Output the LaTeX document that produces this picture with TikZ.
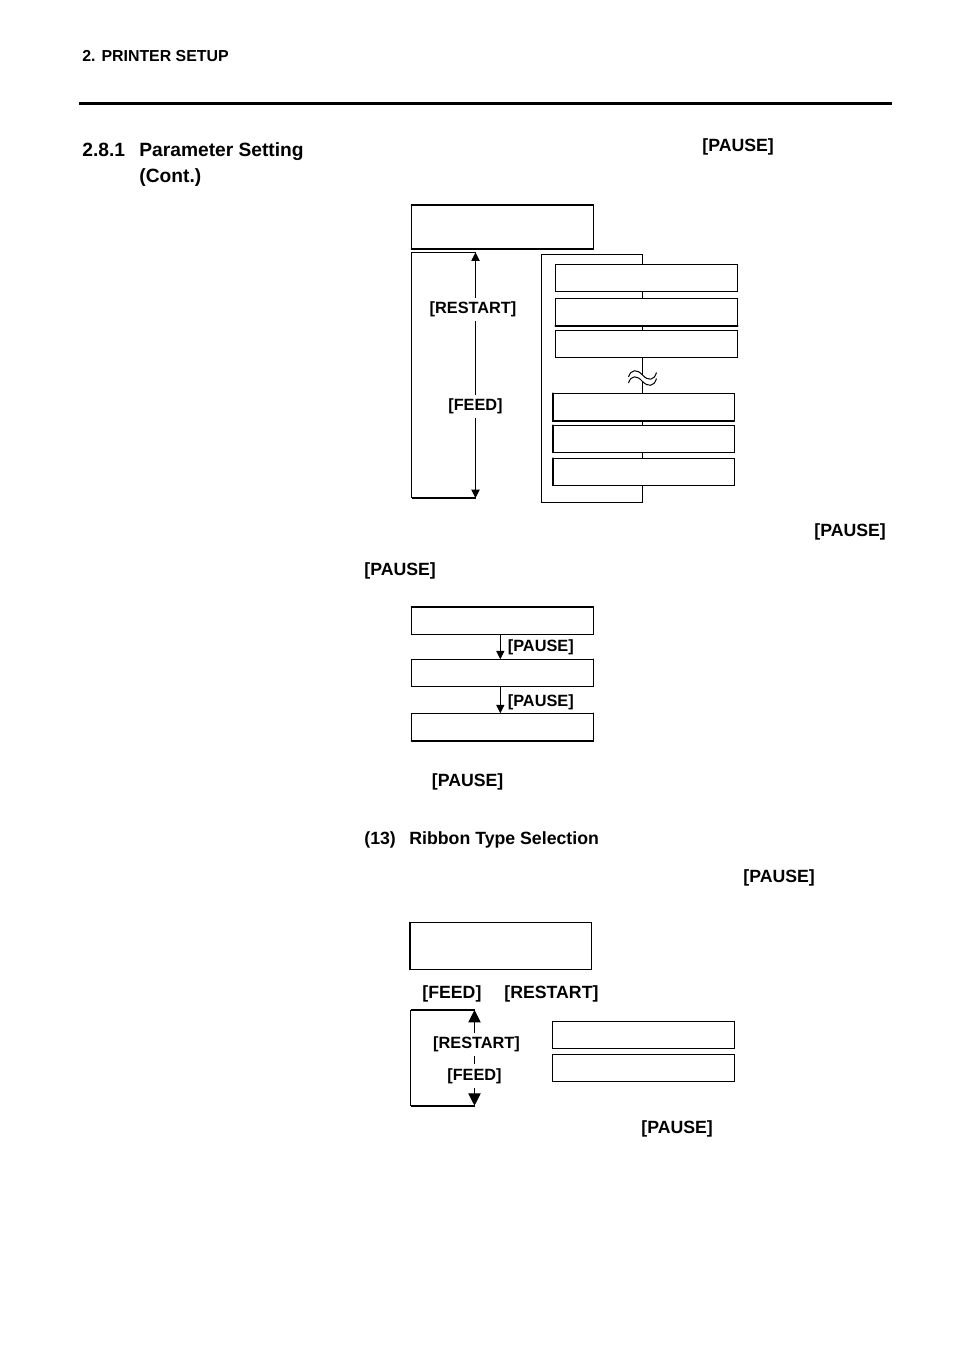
\documentclass[tikz,border=0pt]{standalone}
\usepackage{fontspec}
\setmainfont{Liberation Sans}
\usetikzlibrary{arrows.meta}
\tikzset{
  x=0.5pt,y=-0.5pt,
  thinline/.style={line width=0.5pt,black},
  heavyline/.style={line width=0.85pt,black},
  edgeline/.style={line width=0.85pt,black,line cap=round},
  lcdbox/.style={draw=black,line width=0.55pt,fill=white,inner sep=0pt,outer sep=0pt,anchor=north west},
  smallkey/.style={font=\bfseries\fontsize{8.15}{9}\selectfont,inner xsep=0.6pt,inner ysep=0.6pt,text height=6pt,text depth=1.6pt},
  keylabel/.style={smallkey,fill=white,anchor=center,inner ysep=2pt},
  bodykey/.style={font=\bfseries\fontsize{8.85}{10}\selectfont,inner sep=0pt,anchor=base west},
  headtext/.style={font=\bfseries\fontsize{9.6}{11}\selectfont,inner sep=0pt,anchor=base west},
  runhead/.style={font=\bfseries\fontsize{7.95}{10}\selectfont,inner sep=0pt,anchor=base west},
  subhead/.style={font=\bfseries\fontsize{8.85}{10}\selectfont,inner sep=0pt,anchor=base west},
  smallarrow/.style={thinline,-{Triangle[length=4.2pt,width=4pt]}},
  bothsmall/.style={thinline,{Triangle[length=4.2pt,width=4.2pt]}-{Triangle[length=4.2pt,width=4.2pt]}},
  bothlarge/.style={thinline,{Triangle[length=6.2pt,width=6.2pt]}-{Triangle[length=6.2pt,width=6.2pt]}},
}
\begin{document}
\begin{tikzpicture}
\useasboundingbox (0,0) rectangle (954,1351);
\fill[white] (0,0) rectangle (954,1351);

% page header
\node[runhead] (runninghead) at (82,61) {2. PRINTER SETUP};
\coordinate (ruleL) at (79,103);
\coordinate (ruleR) at (892,103);
\draw[line width=1.5pt] (ruleL) -- (ruleR);
\node[headtext] (secnum) at (82,156) {2.8.1};
\node[headtext] (sectitle) at (139,156) {Parameter Setting};
\node[headtext] (seccont) at (139,182) {(Cont.)};
\node[bodykey] (p1) at (702,151) {[PAUSE]};

% first diagram: loop lines
\coordinate (lt) at (475.5,252.5);
\coordinate (lb) at (475.5,498);
\coordinate (ltl) at (411.5,252.5);
\coordinate (lbl) at (411.5,498);
\draw[thinline] (lt) -- (ltl) -- (lbl);
\draw[heavyline] (lbl) -- (lb);
\draw[bothsmall] (lt) -- (lb);
\node[keylabel] (k1) at (473,309.5) {[RESTART]};
\node[keylabel] (k2) at (475.5,406.5) {[FEED]};

\node[lcdbox,minimum width=91pt,minimum height=22pt] (b1) at (411.5,205) {};
\draw[edgeline] (b1.north west) -- (b1.north east) -- (b1.south east) -- (b1.south west);

% right loop
\coordinate (rt) at (642.3,254.7);
\coordinate (rtl) at (541.5,254.7);
\coordinate (rbl) at (541.5,502);
\coordinate (rb) at (642.3,502);
\coordinate (wavetop) at (642.3,375);
\coordinate (wavebot) at (642.3,382);
\draw[thinline] (wavetop) -- (rt) -- (rtl) -- (rbl) -- (rb) -- (wavebot);

\node[lcdbox,minimum width=91.2pt,minimum height=13.5pt] (r1) at (555.3,264.3) {};
\node[lcdbox,minimum width=91.2pt,minimum height=13.7pt] (r2) at (555.3,298.3) {};
\node[lcdbox,minimum width=91.2pt,minimum height=13.5pt] (r3) at (555.3,330.3) {};
\node[lcdbox,minimum width=90.8pt,minimum height=13.8pt] (r4) at (552.7,393.3) {};
\node[lcdbox,minimum width=90.8pt,minimum height=13.5pt] (r5) at (552.7,425.3) {};
\node[lcdbox,minimum width=90.8pt,minimum height=13.5pt] (r6) at (552.7,458.3) {};
\draw[edgeline] (r2.south west) -- (r2.south east);
\draw[edgeline] (r4.north west) -- (r4.south west) -- (r4.south east);
\draw[edgeline] (r5.north west) -- (r5.south west);
\draw[edgeline] (r6.north west) -- (r6.south west);

% wave break
\draw[thinline] (628.5,377) .. controls (631,369) and (637,369) .. (642.5,375) .. controls (648,381) and (654,381) .. (656.5,372.5);
\draw[thinline] (628.5,383) .. controls (631,375) and (637,375) .. (642.5,381.5) .. controls (648,387) and (654,387) .. (656.5,378.5);

% text between
\node[bodykey] (p2) at (814,536) {[PAUSE]};
\node[bodykey] (p3) at (364,575) {[PAUSE]};

% second diagram
\node[lcdbox,minimum width=91pt,minimum height=13.7pt] (m1) at (411.5,606.7) {};
\node[lcdbox,minimum width=91pt,minimum height=13.5pt] (m2) at (411.5,659.3) {};
\node[lcdbox,minimum width=91pt,minimum height=13.8pt] (m3) at (411.5,713.3) {};
\draw[edgeline] (m1.north west) -- (m1.north east) -- (m1.south east);
\draw[edgeline] (m2.north east) -- (m2.south east);
\draw[edgeline] (m3.north east) -- (m3.south east) -- (m3.south west);
\coordinate (ax) at (500.3,0);
\draw[smallarrow] (m1.south -| ax) -- (m2.north -| ax);
\draw[smallarrow] (m2.south -| ax) -- (m3.north -| ax);
\node[smallkey,anchor=west] (k3) at (506.3,647.5) {[PAUSE]};
\node[smallkey,anchor=west] (k4) at (506.3,702.5) {[PAUSE]};

\node[bodykey] (p4) at (431.5,786) {[PAUSE]};
\node[subhead] (s13) at (364,844) {(13)};
\node[subhead] (ribbon) at (409,844) {Ribbon Type Selection};
\node[bodykey] (p5) at (743,882) {[PAUSE]};

% third diagram
\node[lcdbox,minimum width=90.8pt,minimum height=23.5pt] (c1) at (410,922.3) {};
\draw[heavyline] (c1.north west) -- (c1.south west);
\node[bodykey] (k5) at (422,998) {[FEED]};
\node[bodykey] (k6) at (504,998) {[RESTART]};

\coordinate (ct) at (474.5,1010);
\coordinate (cb) at (474.5,1105.7);
\coordinate (ctl) at (410.5,1010);
\coordinate (cbl) at (410.5,1105.7);
\draw[heavyline] (ct) -- (ctl);
\draw[thinline] (ctl) -- (cbl);
\draw[heavyline] (cbl) -- (cb);
\draw[bothlarge] (ct) -- (cb);
\node[keylabel] (k7) at (476.5,1044.5) {[RESTART]};
\node[keylabel] (k8) at (474.5,1076) {[FEED]};

\node[lcdbox,minimum width=91.2pt,minimum height=13.5pt] (d1) at (552.3,1021.3) {};
\node[lcdbox,minimum width=91.2pt,minimum height=13.5pt] (d2) at (552.3,1054.3) {};

\node[bodykey] (p6) at (641,1133) {[PAUSE]};
\end{tikzpicture}
\end{document}
